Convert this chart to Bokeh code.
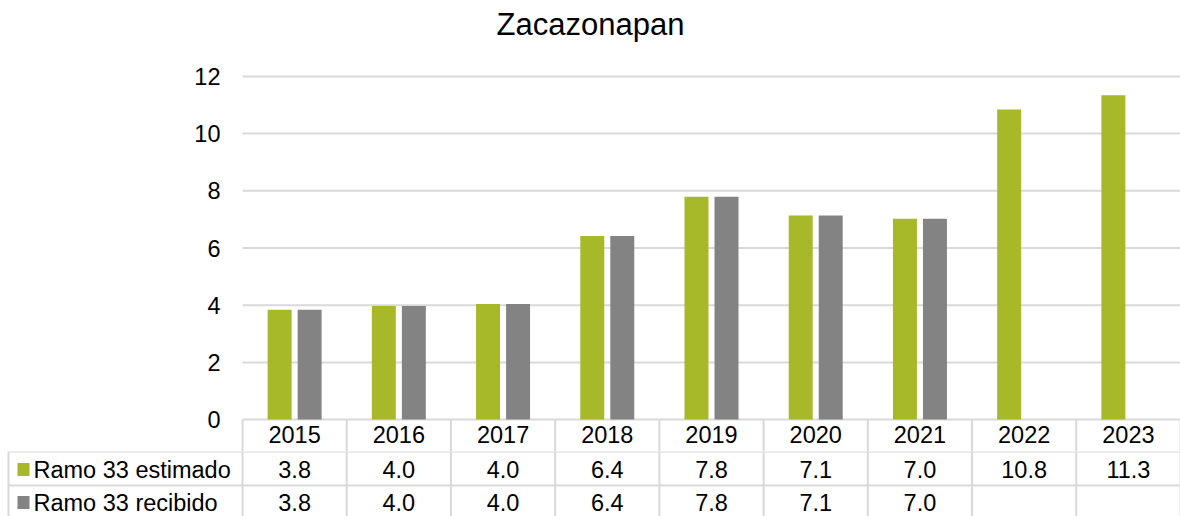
from bokeh.plotting import figure
from bokeh.layouts import column
from bokeh.models import ColumnDataSource, Range1d, FixedTicker, Title, LinearAxis
from bokeh.core.properties import value
from bokeh.embed import file_html
from bokeh.resources import INLINE

# ---- data ----
years = ["2015", "2016", "2017", "2018", "2019", "2020", "2021", "2022", "2023"]
estimado = [3.84, 3.97, 4.04, 6.42, 7.79, 7.14, 7.02, 10.84, 11.34]
recibido = [3.84, 3.97, 4.04, 6.42, 7.79, 7.14, 7.02, float("nan"), float("nan")]
series_names = ["Ramo 33 estimado", "Ramo 33 recibido"]
y_ticks = [0, 2, 4, 6, 8, 10, 12]

GREEN = "#A7B828"
GRAY = "#838383"
LINE = "#D9D9D9"
FONT = "Liberation Sans"
FS = "23.5px"

W = 1180
LEFT = 242                      # pixel where the plot area starts
ncat = len(years)
colw = (W - LEFT) / ncat        # pixels per category
xmin = -LEFT / colw

def px(x):
    """pixel offset from figure left -> data x"""
    return xmin + x / colw

HEADER = 32                     # header row height (pixels) below the zero line
H_A = 419 + HEADER
FRAME_TOP = 45
ppu = (419 - 75) / 12.0         # pixels per y unit
y_top = 12 + (75 - FRAME_TOP) / ppu
y_bot = -HEADER / ppu

xr = Range1d(xmin, ncat)
pos = [i + 0.5 for i in range(ncat)]
src = ColumnDataSource(dict(x_est=[p - 0.144 for p in pos], x_rec=[p + 0.144 for p in pos],
                            est=estimado, rec=recibido))

# ---- chart ----
pa = figure(width=W, height=H_A, x_range=xr, y_range=Range1d(y_bot, y_top),
            output_backend="svg", toolbar_location=None, tools="",
            y_axis_location=None, x_axis_location=None,
            min_border_left=0, min_border_right=0, min_border_top=FRAME_TOP,
            min_border_bottom=0)
pa.outline_line_color = None
pa.grid.visible = False

yax = LinearAxis(ticker=FixedTicker(ticks=y_ticks), fixed_location=0)
yax.axis_line_color = None
yax.major_tick_line_color = None
yax.minor_tick_line_color = None
yax.major_label_standoff = 16
yax.major_label_text_font = FONT
yax.major_label_text_font_size = FS
yax.major_label_text_color = "black"
pa.add_layout(yax, "left")

# gridlines across plot area only
pa.segment(x0=[0] * len(y_ticks), y0=y_ticks, x1=[ncat] * len(y_ticks), y1=y_ticks,
           line_color=LINE, line_width=2)

pa.vbar(x="x_est", top="est", width=0.23, source=src, fill_color=GREEN, line_color=None)
pa.vbar(x="x_rec", top="rec", width=0.23, source=src, fill_color=GRAY, line_color=None)

# header row of the data table (category labels)
hx = list(range(ncat + 1))
pa.segment(x0=hx, y0=[0] * len(hx), x1=hx, y1=[y_bot] * len(hx),
           line_color=LINE, line_width=2)
pa.text(x=pos, y=[-14.5 / ppu] * ncat, text=years, text_font=value(FONT),
        text_font_size=FS, text_align="center", text_baseline="middle",
        text_color="black")

pa.title = Title(text="Zacazonapan", align="center", offset=-8, standoff=9,
                 text_font=FONT, text_font_size="31px", text_font_style="normal",
                 text_color="black")

# ---- data table rows ----
H_B = 516 - H_A
pb = figure(width=W, height=H_B, x_range=xr, y_range=Range1d(-H_B, 0),
            output_backend="svg", toolbar_location=None, tools="",
            y_axis_location=None, x_axis_location=None,
            min_border_left=0, min_border_right=0, min_border_top=0, min_border_bottom=0)
pb.outline_line_color = None
pb.grid.visible = False

row_y = [-18, -51]
hline_y = [0, -34]

pb.segment(x0=[px(8)] * 2, y0=hline_y, x1=[ncat] * 2, y1=hline_y,
           line_color=LINE, line_width=2)
vx = [px(8)] + list(range(ncat + 1))
pb.segment(x0=vx, y0=[0] * len(vx), x1=vx, y1=[-H_B] * len(vx),
           line_color=LINE, line_width=2)

est_txt = [f"{v:.1f}" for v in estimado]
rec_txt = [("" if v != v else f"{v:.1f}") for v in recibido]
for txt, yy in ((est_txt, row_y[0]), (rec_txt, row_y[1])):
    pb.text(x=pos, y=[yy] * ncat, text=txt, text_font=value(FONT), text_font_size=FS,
            text_align="center", text_baseline="middle", text_color="black")

pb.rect(x=[px(23)] * 2, y=row_y, width=12, height=13,
        width_units="screen", height_units="screen",
        fill_color=[GREEN, GRAY], line_color=None)
pb.text(x=[px(33)] * 2, y=row_y, text=series_names,
        text_font=value(FONT), text_font_size=FS, text_align="left",
        text_baseline="middle", text_color="black")

layout = column(pa, pb, spacing=0)
open("out.html", "w").write(file_html(layout, INLINE))
